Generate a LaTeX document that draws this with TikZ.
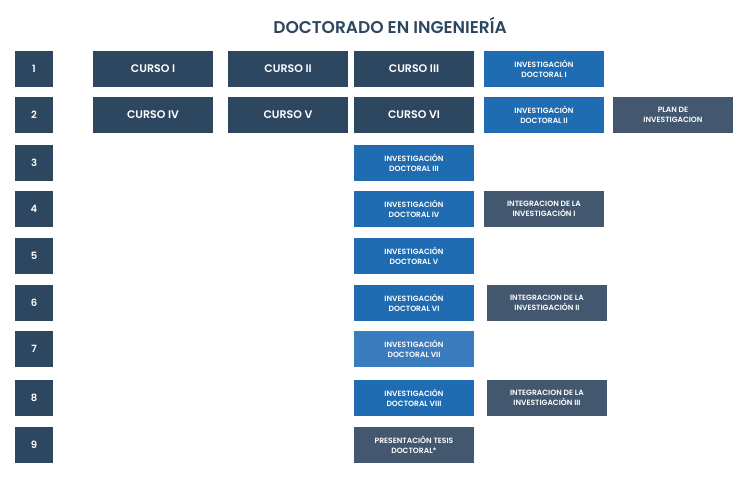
\documentclass[tikz,border=0pt]{standalone}
\usepackage{fontspec}
\setmainfont{Poppins}[BoldFont={* SemiBold}]
\definecolor{navy}{HTML}{2E4760}
\definecolor{blu}{HTML}{1F6CB3}
\definecolor{lblu}{HTML}{3A7CBD}
\definecolor{slate}{HTML}{43586F}
\begin{document}
\begin{tikzpicture}[x=1pt,y=-1pt,
  bx/.style={draw=none,inner sep=0pt,text=white,font=\bfseries,align=center,minimum height=36pt},
  num/.style={bx,fill=navy,minimum width=38pt,font=\bfseries\fontsize{10}{12}\selectfont},
  cur/.style={bx,fill=navy,minimum width=120pt,font=\bfseries\fontsize{11}{13}\selectfont},
  inv/.style={bx,fill=blu,minimum width=120pt,font=\bfseries\fontsize{7.6}{10}\selectfont},
  grb/.style={bx,fill=slate,minimum width=120pt,font=\bfseries\fontsize{7.6}{10}\selectfont}]
\useasboundingbox (0,0) rectangle (744,478);
\node[text=navy,font=\bfseries\fontsize{17}{20}\selectfont] (t) at (390,25) {DOCTORADO EN INGENIERÍA};
\foreach \n/\y in {1/69,2/115,3/163,4/209,5/256,6/303,7/349,8/398,9/445}
  \node[num] (n\n) at (34,\y) {\n};
\node[cur] (c1) at (153,69) {CURSO I};
\node[cur] (c2) at (288,69) {CURSO II};
\node[cur] (c3) at (414,69) {CURSO III};
\node[inv] (i1) at (544,69) {INVESTIGACIÓN\\DOCTORAL I};
\node[cur] (c4) at (153,115) {CURSO IV};
\node[cur] (c5) at (288,115) {CURSO V};
\node[cur] (c6) at (414,115) {CURSO VI};
\node[inv] (i2) at (544,115) {INVESTIGACIÓN\\DOCTORAL II};
\node[grb] (p) at (673,115) {PLAN DE\\INVESTIGACION};
\node[inv] (i3) at (414,163) {INVESTIGACIÓN\\DOCTORAL III};
\node[inv] (i4) at (414,209) {INVESTIGACIÓN\\DOCTORAL IV};
\node[grb] (g1) at (544,209) {INTEGRACION DE LA\\INVESTIGACIÓN I};
\node[inv] (i5) at (414,256) {INVESTIGACIÓN\\DOCTORAL V};
\node[inv] (i6) at (414,303) {INVESTIGACIÓN\\DOCTORAL VI};
\node[grb] (g2) at (547,303) {INTEGRACION DE LA\\INVESTIGACIÓN II};
\node[inv,fill=lblu] (i7) at (414,349) {INVESTIGACIÓN\\DOCTORAL VII};
\node[inv] (i8) at (414,398) {INVESTIGACIÓN\\DOCTORAL VIII};
\node[grb] (g3) at (547,398) {INTEGRACION DE LA\\INVESTIGACIÓN III};
\node[grb] (ts) at (414,445) {PRESENTACIÓN TESIS\\DOCTORAL*};
\end{tikzpicture}
\end{document}
